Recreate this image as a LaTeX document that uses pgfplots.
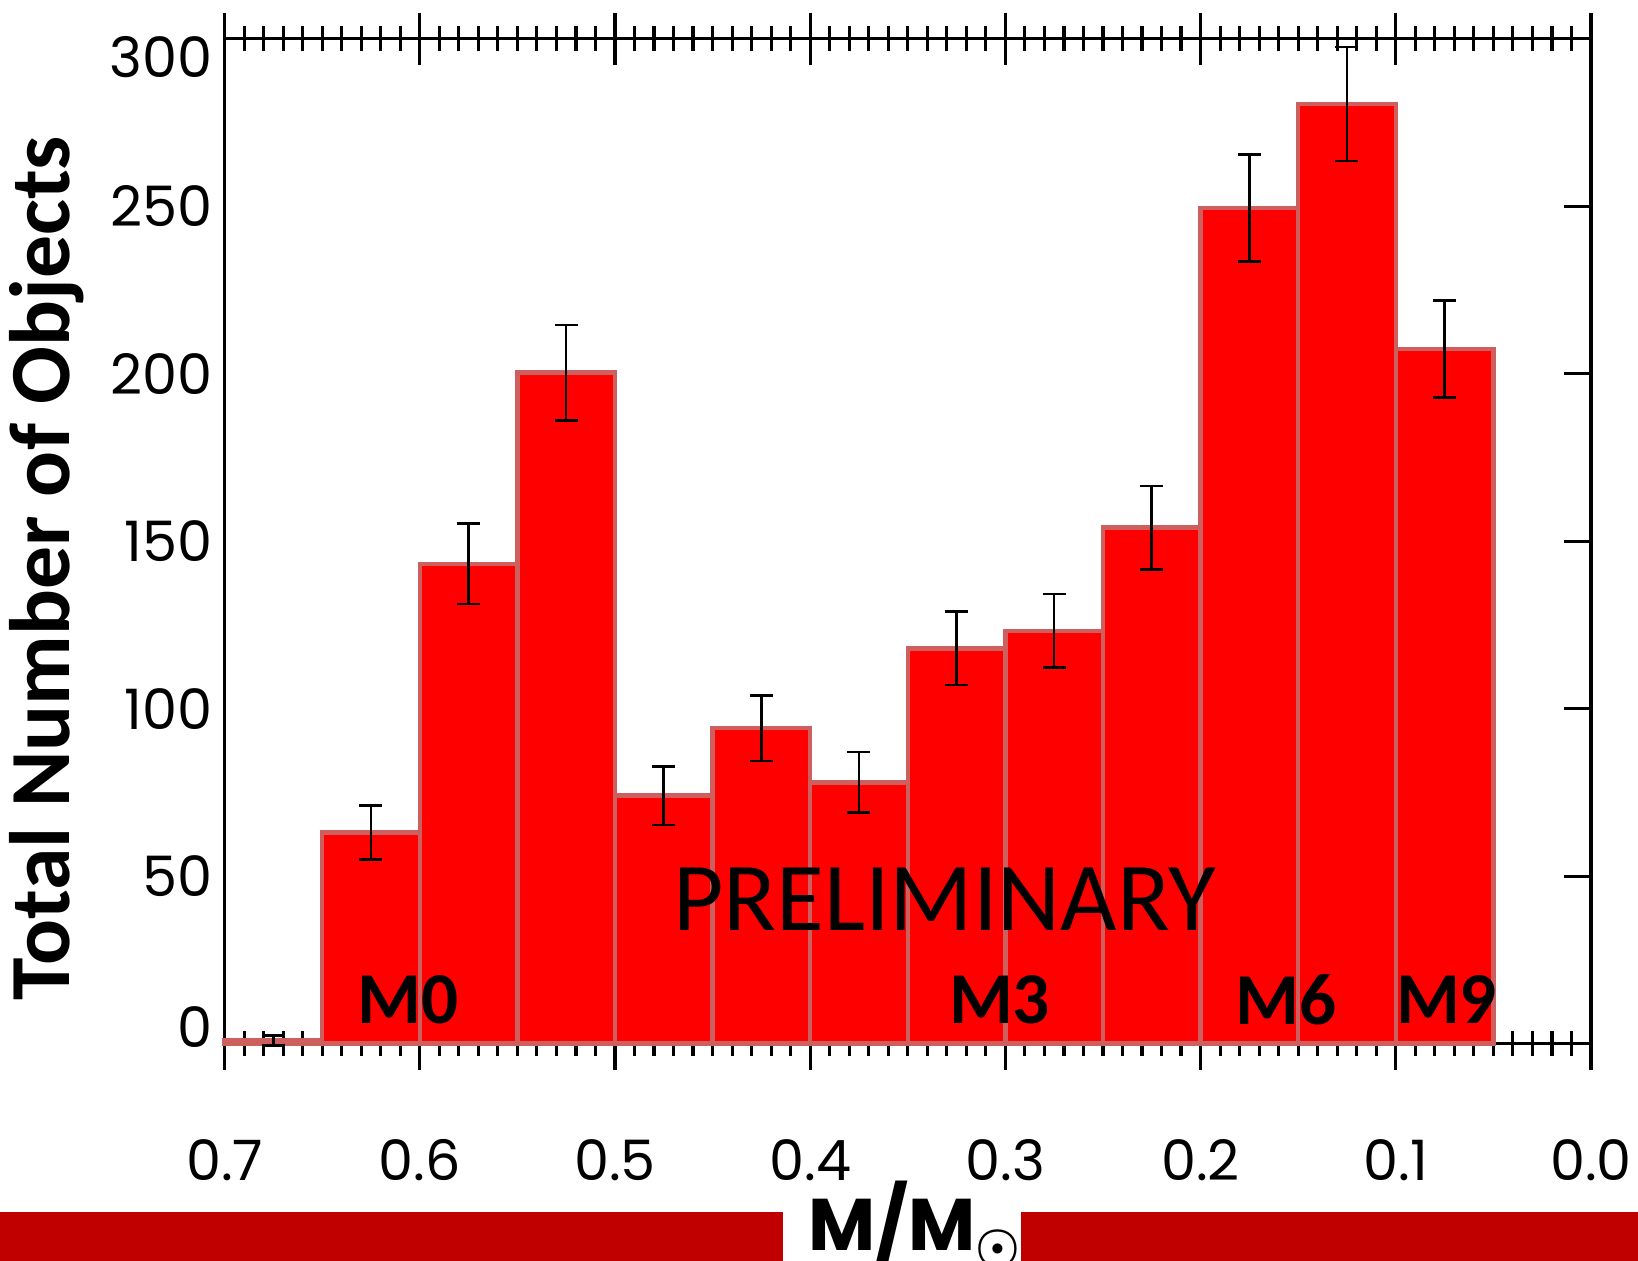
\documentclass[border=0pt]{standalone}
\usepackage{pgfplots}
\pgfplotsset{compat=1.18}
\usepackage{bm}
\usepackage{fontspec}
\setmainfont{Carlito}
\newfontfamily\poppins{Poppins}
\definecolor{barred}{RGB}{255,0,0}
\definecolor{baredge}{RGB}{205,95,95}
\definecolor{bandred}{RGB}{192,0,0}
\begin{document}
\begin{tikzpicture}
\useasboundingbox (-64.5pt,-62.4pt) rectangle (405.9pt,299.7pt);
% y axis: ticks on the right (inward), labels on the left
\begin{axis}[
  at={(0pt,0pt)}, anchor=south west,
  scale only axis, width=392.4pt, height=288.6pt,
  x dir=reverse, xmin=0, xmax=0.7, ymin=0, ymax=300,
  axis line style={line width=0.9pt, black},
  xtick=\empty,
  ytick={0,50,100,150,200,250,300},
  yticklabels={\raisebox{4.8pt}[\height][\depth]{0},50,100,150,200,250,\raisebox{-5.4pt}[\height][\depth]{300}},
  ytick pos=right, yticklabel pos=left,
  tick align=inside, major tick length=7.8pt,
  every tick/.style={black, line width=0.9pt},
  yticklabel style={font=\poppins\fontsize{16}{16}\selectfont},
  ylabel={Total Number of Objects},
  ylabel style={font=\bfseries\fontsize{24.6}{24.6}\selectfont, at={(axis description cs:-0.13,0.473)}, anchor=center},
]
\end{axis}
% x axis and data
\begin{axis}[
  at={(0pt,0pt)}, anchor=south west,
  scale only axis, width=392.4pt, height=288.6pt,
  x dir=reverse, xmin=0, xmax=0.7, ymin=0, ymax=300,
  clip=false,
  axis line style={line width=0.9pt, black},
  xtick={0,0.1,0.2,0.3,0.4,0.5,0.6,0.7}, minor x tick num=9,
  ytick=\empty,
  tick align=center,
  major tick length=15pt, minor tick length=7pt,
  every tick/.style={black, line width=0.9pt},
  xtick pos=both, xticklabel pos=bottom,
  /pgf/number format/assume math mode=true,
  xticklabel style={font=\poppins\fontsize{16}{16}\selectfont, yshift=-16.5pt,
    /pgf/number format/fixed, /pgf/number format/fixed zerofill, /pgf/number format/precision=1},
  xlabel={M/M$_{\bm{\odot}}$},
  xlabel style={font=\poppins\bfseries\fontsize{21}{21}\selectfont, at={(axis description cs:0.4266,-0.206)}, anchor=base west, inner sep=0pt},
]
\addplot[ybar interval, fill=barred, draw=baredge, line width=1.3pt] coordinates {
(0.05,207.4) (0.10,280.5) (0.15,249.5) (0.20,154) (0.25,123.2) (0.30,118)
(0.35,78) (0.40,94.2) (0.45,74) (0.50,200.3) (0.55,143.2) (0.60,63)
(0.65,1) (0.70,1)};
\addplot[draw=none, mark=none,
  error bars/.cd, y dir=both, y explicit,
  error bar style={draw=black, line width=0.75pt},
  error mark options={draw=black, line width=0.75pt, mark size=3.3pt, rotate=90}]
coordinates {
(0.675,1) +- (0,1.5)
(0.625,63) +- (0,8)
(0.575,143.2) +- (0,12)
(0.525,200.3) +- (0,14.2)
(0.475,74) +- (0,8.7)
(0.425,94.2) +- (0,9.8)
(0.375,78) +- (0,9)
(0.325,118) +- (0,11)
(0.275,123.2) +- (0,11)
(0.225,154) +- (0,12.5)
(0.175,249.5) +- (0,16)
(0.125,280.5) +- (0,17)
(0.075,207.4) +- (0,14.5)
};
\node[font=\bfseries\fontsize{21}{21}\selectfont] at (axis cs:0.606,13.1) {M0};
\node[font=\bfseries\fontsize{21}{21}\selectfont] at (axis cs:0.303,13.1) {M3};
\node[font=\bfseries\fontsize{21}{21}\selectfont] at (axis cs:0.156,13.1) {M6};
\node[font=\bfseries\fontsize{21}{21}\selectfont] at (axis cs:0.074,13.1) {M9};
\node[font=\fontsize{28}{28}\selectfont] at (axis cs:0.331,43) {PRELIMINARY};
\end{axis}
\fill[bandred] (-64.5pt,-62.4pt) rectangle (160.5pt,-48.3pt);
\fill[bandred] (228.6pt,-62.4pt) rectangle (405.9pt,-48.3pt);
\end{tikzpicture}
\end{document}
